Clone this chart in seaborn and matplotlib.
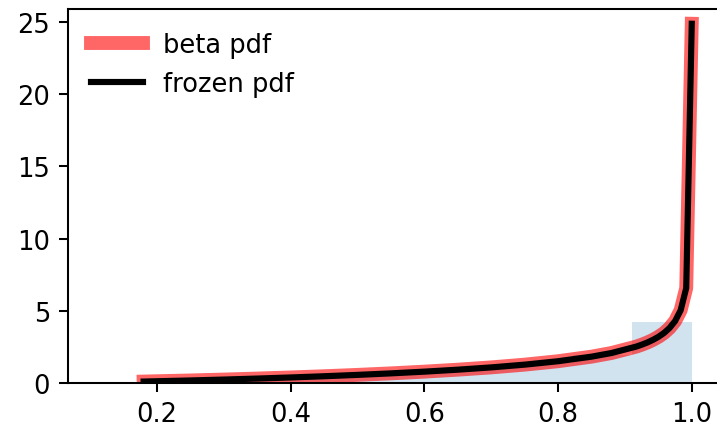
import numpy as np
import matplotlib
matplotlib.use("Agg")
import matplotlib.pyplot as plt
import seaborn as sns

# Curve values
x_vals = [0.18, 0.20, 0.25, 0.30, 0.35, 0.40, 0.45, 0.50, 0.55, 0.60, 0.65,
          0.70, 0.75, 0.80, 0.85, 0.88, 0.9169, 0.9252, 0.9335, 0.9418,
          0.9501, 0.9584, 0.9666, 0.9749, 0.9832, 0.9915, 0.99975]
pdf_vals = [0.128, 0.149, 0.204, 0.266, 0.335, 0.411, 0.495, 0.589, 0.694,
            0.813, 0.949, 1.107, 1.297, 1.534, 1.849, 2.103, 2.546, 2.679,
            2.831, 3.010, 3.224, 3.489, 3.833, 4.311, 5.061, 6.591, 24.86]

# Histogram (density) bins
bin_edges = [0.111, 0.200, 0.289, 0.377, 0.466, 0.555, 0.644, 0.733,
             0.822, 0.911, 0.9995]
bin_heights = [0.10, 0.20, 0.31, 0.44, 0.61, 0.81, 1.06, 1.41, 1.98, 4.23]
bin_centers = [(a + b) / 2 for a, b in zip(bin_edges[:-1], bin_edges[1:])]

DPI = 185
W, H = 717, 430
fig = plt.figure(figsize=(W / DPI, H / DPI), dpi=DPI)
ax = fig.add_axes([68 / W, (H - 384.4) / H, (722 - 68) / W, (384.4 - 10) / H])

sns.lineplot(x=x_vals, y=pdf_vals, ax=ax, color="red", linewidth=5.4, alpha=0.6,
             label="beta pdf", sort=False, estimator=None,
             solid_capstyle="projecting")
sns.lineplot(x=x_vals, y=pdf_vals, ax=ax, color="black", linewidth=2.4,
             label="frozen pdf", sort=False, estimator=None,
             solid_capstyle="projecting")
sns.histplot(x=bin_centers, weights=bin_heights, bins=bin_edges, ax=ax,
             stat="count", element="bars", fill=True, alpha=0.2,
             linewidth=0, color="#1f77b4")

ax.set_xlim(0.0669, 1.045)
ax.set_ylim(0, 25.88)
ax.set_xticks([0.2, 0.4, 0.6, 0.8, 1.0])
ax.set_yticks([0, 5, 10, 15, 20, 25])
ax.set_xlabel("")
ax.set_ylabel("")
ax.legend(loc="best", frameon=False)

fig.savefig("out.png", dpi=DPI)
